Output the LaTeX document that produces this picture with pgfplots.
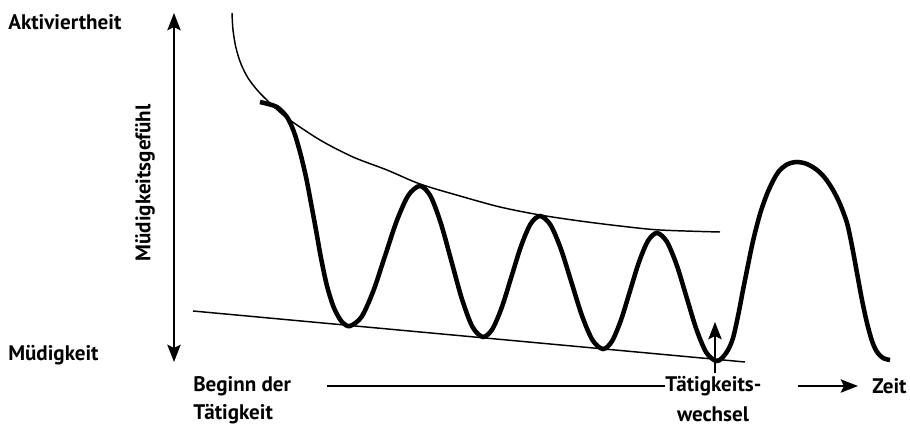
\documentclass[border=0pt]{standalone}
\usepackage{pgfplots}
\pgfplotsset{compat=1.18}
\usetikzlibrary{arrows.meta}
\usepackage{fontspec}
\setmainfont{PT Sans}
\tikzset{lbl/.style={font=\fontsize{15.8}{18}\selectfont\bfseries, inner sep=0pt}}
\begin{document}
\begin{tikzpicture}
\begin{axis}[
  scale only axis, width=682.5pt, height=323.25pt,
  xmin=0, xmax=910, ymin=0, ymax=431, y dir=reverse,
  hide axis, clip=false,
]
% frame for bounding box
\addplot[draw=none] coordinates {(0,0)(910,0)(910,431)(0,431)};
% upper envelope
\addplot[black, line width=1.1pt, smooth] coordinates {
(232,13)(233,30)(236,48)(241,64)(248,78)(258,91)(270,103)(287,118)(320,140)(353,157)(387,170)(420,184)(460,196)(500,207)(540,215)(580,221)(620,226)(660,230)(720,232)};
% lower line
\addplot[black, line width=1.1pt] coordinates {(193,311)(745,362)};
% thick wave
\addplot[black, line width=3.4pt, smooth, tension=0.5] coordinates {
(260,102)(268,104)(277,107)(287,117)(294,132)(300,152)(306,177)(311,203)(316,230)(321,258)(327,286)(334,308)(342,322)(350,326)
(361.7,316.6)(373.3,291)(385,256)(396.7,221)(408.3,195.4)(420,186)
(430.5,196.1)(441,223.75)(451.5,261.5)(462,299.25)(472.5,326.9)(483,337)
(492.5,328.9)(502,306.75)(511.5,276.5)(521,246.25)(530.5,224.1)(540,216)
(550.5,224.9)(561,249.25)(571.5,282.5)(582,315.75)(592.5,340.1)(603,349)
(612,341.2)(621,320)(630,291)(639,262)(648,240.8)(657,233)
(666.8,241.6)(676.7,265)(686.5,297)(696.3,329)(706.2,352.4)(716,361)
(722,358)(728,350)(733,338)(738,316)(743,290)(748,265)(753,241)(760,214)(767,194)(774,179)(780,170)(788,164)(797,162)
(807,164)(817,170)(825,178)(833,190)(840,204)(847,223)(852,246)(857,273)(862,300)(867,323)(872,341)(877,352)(883,358)(890,360)};
% vertical double arrow
\addplot[black, line width=1.5pt, {Stealth[length=13pt,width=10pt,inset=2.5pt]}-{Stealth[length=13pt,width=10pt,inset=2.5pt]}] coordinates {(174,13)(174,362)};
% small up arrow
\addplot[black, line width=1.5pt, -{Stealth[length=13pt,width=10pt,inset=2.5pt]}] coordinates {(715,373)(715,322)};
% time axis line
\addplot[black, line width=1.5pt] coordinates {(327,386)(665,386)};
\addplot[black, line width=1.5pt, -{Stealth[length=13pt,width=10pt,inset=2.5pt]}] coordinates {(798,386)(858,386)};
% labels
\node[lbl, anchor=west] at (axis cs:8,22) {Aktiviertheit};
\node[lbl, anchor=west] at (axis cs:8,355) {Müdigkeit};
\node[lbl, rotate=90] at (axis cs:145,183) {Müdigkeitsgefühl};
\node[lbl, anchor=west] at (axis cs:193,386) {Beginn der};
\node[lbl, anchor=west] at (axis cs:193,414) {Tätigkeit};
\node[lbl, anchor=west] at (axis cs:665,386) {Tätigkeits-};
\node[lbl] at (axis cs:713,414) {wechsel};
\node[lbl, anchor=west] at (axis cs:872,386) {Zeit};
\end{axis}
\end{tikzpicture}
\end{document}
